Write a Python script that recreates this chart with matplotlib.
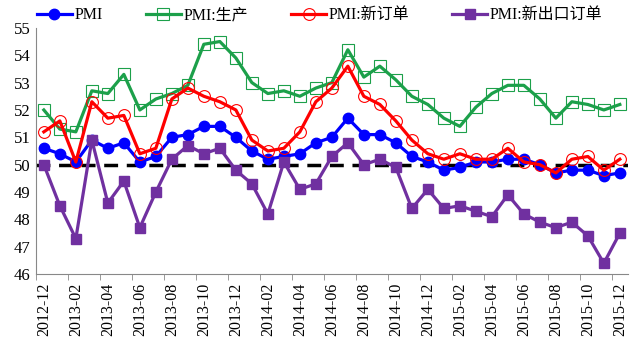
import numpy as np
import matplotlib
matplotlib.use('Agg')
import matplotlib.pyplot as plt

plt.rcParams['font.family'] = ['Liberation Serif', 'Noto Sans CJK SC']

# months 2012-12 .. 2015-12
months = ['2012-12', '2013-01', '2013-02', '2013-03', '2013-04', '2013-05', '2013-06',
          '2013-07', '2013-08', '2013-09', '2013-10', '2013-11', '2013-12',
          '2014-01', '2014-02', '2014-03', '2014-04', '2014-05', '2014-06',
          '2014-07', '2014-08', '2014-09', '2014-10', '2014-11', '2014-12',
          '2015-01', '2015-02', '2015-03', '2015-04', '2015-05', '2015-06',
          '2015-07', '2015-08', '2015-09', '2015-10', '2015-11', '2015-12']

pmi = [50.6, 50.4, 50.1, 50.9, 50.6, 50.8, 50.1, 50.3, 51.0, 51.1, 51.4, 51.4, 51.0,
       50.5, 50.2, 50.3, 50.4, 50.8, 51.0, 51.7, 51.1, 51.1, 50.8, 50.3, 50.1,
       49.8, 49.9, 50.1, 50.1, 50.2, 50.2, 50.0, 49.7, 49.8, 49.8, 49.6, 49.7]
production = [52.0, 51.3, 51.2, 52.7, 52.6, 53.3, 52.0, 52.4, 52.6, 52.9, 54.4, 54.5, 53.9,
              53.0, 52.6, 52.7, 52.5, 52.8, 53.0, 54.2, 53.2, 53.6, 53.1, 52.5, 52.2,
              51.7, 51.4, 52.1, 52.6, 52.9, 52.9, 52.4, 51.7, 52.3, 52.2, 52.0, 52.2]
new_orders = [51.2, 51.6, 50.1, 52.3, 51.7, 51.8, 50.4, 50.6, 52.4, 52.8, 52.5, 52.3, 52.0,
              50.9, 50.5, 50.6, 51.2, 52.3, 52.8, 53.6, 52.5, 52.2, 51.6, 50.9, 50.4,
              50.2, 50.4, 50.2, 50.2, 50.6, 50.1, 50.0, 49.7, 50.2, 50.3, 49.8, 50.2]
export_orders = [50.0, 48.5, 47.3, 50.9, 48.6, 49.4, 47.7, 49.0, 50.2, 50.7, 50.4, 50.6, 49.8,
                 49.3, 48.2, 50.1, 49.1, 49.3, 50.3, 50.8, 50.0, 50.2, 49.9, 48.4, 49.1,
                 48.4, 48.5, 48.3, 48.1, 48.9, 48.2, 47.9, 47.7, 47.9, 47.4, 46.4, 47.5]

x = np.arange(len(months))

fig = plt.figure(figsize=(6.4, 3.57), dpi=100)
ax = fig.add_axes([0.056, 0.232, 0.925, 0.69])

ax.plot([-0.5, len(months) - 0.5], [50, 50], color='black', lw=2.5,
        dashes=(4, 2.5), zorder=1)

ax.plot(x, pmi, color='#0000FF', lw=2.3, marker='o', ms=7.5,
        markerfacecolor='#0000FF', markeredgecolor='#0000FF', label='PMI', zorder=3)
ax.plot(x, production, color='#1CA04A', lw=2.3, marker='s', ms=9,
        markerfacecolor='none', markeredgecolor='#1CA04A', mew=0.8,
        label='PMI:生产', zorder=3)
ax.plot(x, new_orders, color='#FF0000', lw=2.3, marker='o', ms=8.5,
        markerfacecolor='none', markeredgecolor='#FF0000', mew=0.8,
        label='PMI:新订单', zorder=4)
ax.plot(x, export_orders, color='#7030A0', lw=2.3, marker='s', ms=7.5,
        markerfacecolor='#7030A0', markeredgecolor='#7030A0',
        label='PMI:新出口订单', zorder=5)

ax.set_xlim(-0.5, len(months) - 0.5)
ax.set_ylim(46, 55)
ax.set_yticks(range(46, 56))
ax.set_xticks(x[::2])
ax.set_xticklabels(months[::2], rotation=90, fontsize=11.5)
ax.set_xticks(np.arange(-0.5, len(months), 2), minor=True)
ax.tick_params(axis='x', which='major', length=0, pad=6)
ax.tick_params(axis='x', which='minor', length=4, color='#888888', direction='out')
ax.tick_params(axis='y', labelsize=12, length=0, pad=4)

for s in ['top', 'right']:
    ax.spines[s].set_visible(False)
for s in ['left', 'bottom']:
    ax.spines[s].set_color('#888888')

fig.legend(loc='upper left', bbox_to_anchor=(0.035, 1.02), ncol=4, frameon=False,
           fontsize=11.5, handlelength=2.2, columnspacing=2.7, handletextpad=0.15)

fig.savefig('out.png', dpi=100)
